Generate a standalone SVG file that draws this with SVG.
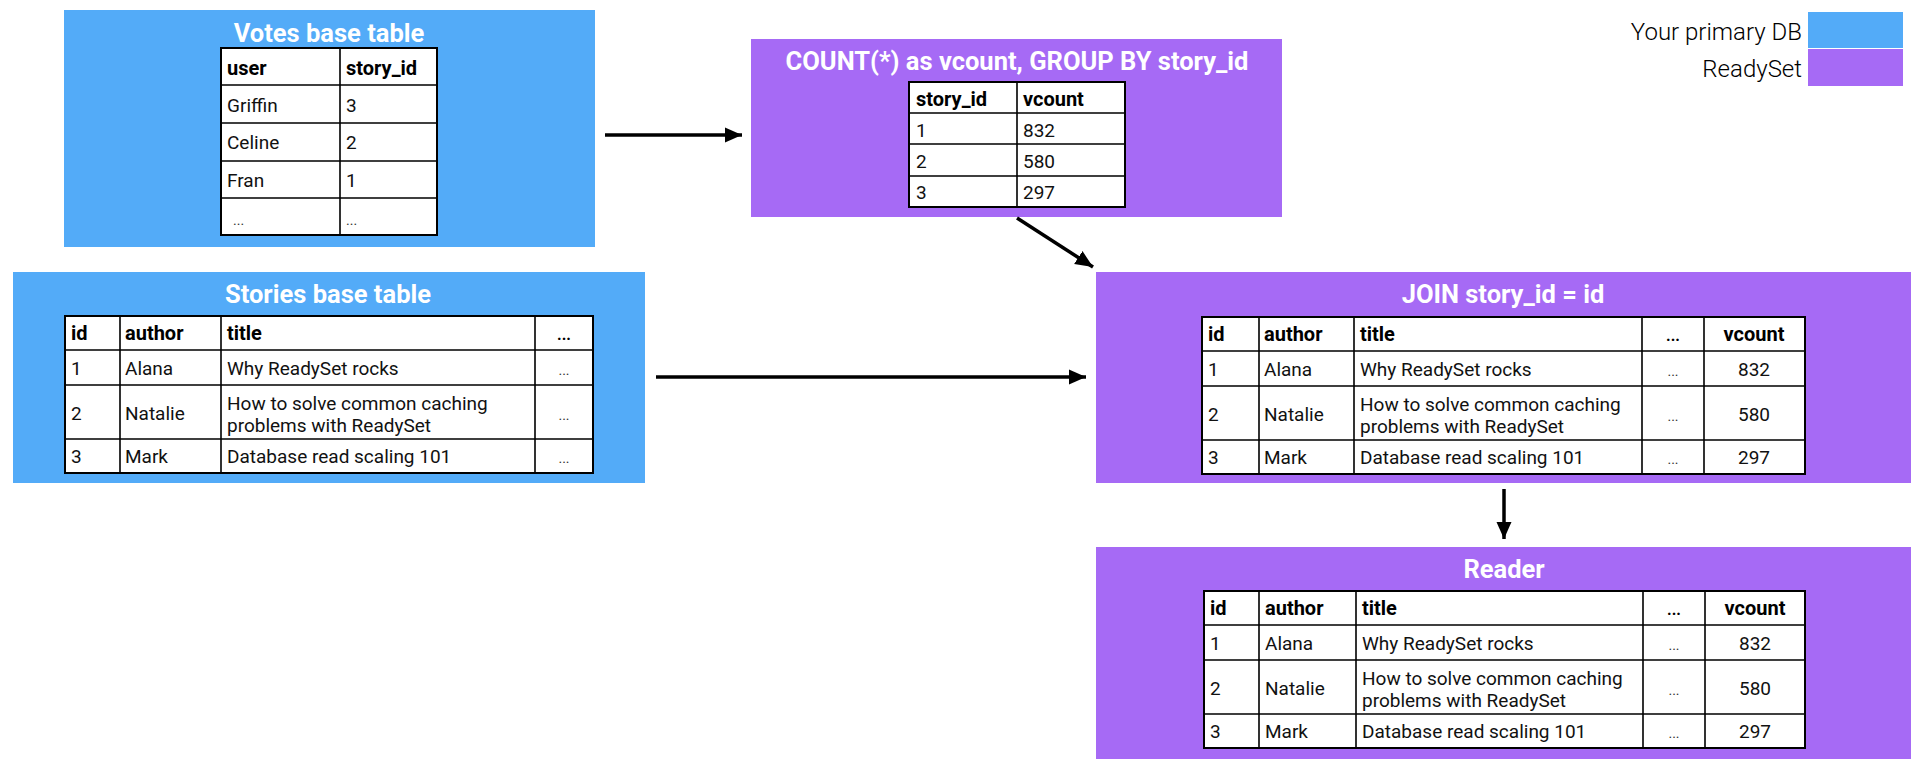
<svg xmlns="http://www.w3.org/2000/svg" width="1922" height="766" viewBox="0 0 1922 766">
<style>
.bg{fill:#ffffff}
.blue{fill:#53abf8}
.purple{fill:#a66af5}
.title{font-family:Roboto,"Liberation Sans",sans-serif;font-weight:700;font-size:25.5px;fill:#ffffff;text-anchor:middle}
.tbl{fill:#ffffff;stroke:#000000;stroke-width:2}
.grid{stroke:#000000;stroke-width:1.6;fill:none}
.h{font-family:Roboto,"Liberation Sans",sans-serif;font-weight:700;font-size:20px;fill:#000000}
.c{font-family:Roboto,"Liberation Sans",sans-serif;font-weight:400;font-size:19px;fill:#111111}
.m{text-anchor:middle}
.dots{font-family:Roboto,"Liberation Sans",sans-serif;font-size:14px;fill:#333333;text-anchor:middle}
.hdots{font-family:Roboto,"Liberation Sans",sans-serif;font-weight:700;font-size:16px;fill:#000000;text-anchor:middle}
.leg{font-family:Roboto,"Liberation Sans",sans-serif;font-weight:300;font-size:24px;fill:#000000;text-anchor:end}
.arrow{stroke:#000000;stroke-width:3.5;fill:none;marker-end:url(#ah)}
</style>
<defs>
<marker id="ah" markerWidth="6" markerHeight="6" refX="5" refY="3" orient="auto" markerUnits="strokeWidth">
<path d="M0,0.8 L5,3 L0,5.2 z" fill="#000000"/>
</marker>
</defs>
<rect class="bg" x="0" y="0" width="1922" height="766"/>

<g id="legend">
<text class="leg" x="1802" y="40">Your primary DB</text>
<rect class="blue" x="1808" y="12" width="95" height="36"/>
<text class="leg" x="1802" y="77">ReadySet</text>
<rect class="purple" x="1808" y="49" width="95" height="37"/>
</g>

<g id="votes">
<rect class="blue" x="64" y="10" width="531" height="237"/>
<text class="title" x="329" y="42">Votes base table</text>
<rect class="tbl" x="221" y="48" width="216" height="187"/>
<path class="grid" d="M340,48V235 M221,85H437 M221,123H437 M221,161H437 M221,198H437"/>
<text class="h" x="227" y="75">user</text>
<text class="h" x="346" y="75">story_id</text>
<text class="c" x="227" y="112">Griffin</text>
<text class="c" x="346" y="112">3</text>
<text class="c" x="227" y="149">Celine</text>
<text class="c" x="346" y="149">2</text>
<text class="c" x="227" y="187">Fran</text>
<text class="c" x="346" y="187">1</text>
<text class="dots" x="233" y="225" style="text-anchor:start">...</text>
<text class="dots" x="346" y="225" style="text-anchor:start">...</text>
</g>

<g id="count">
<rect class="purple" x="751" y="39" width="531" height="178"/>
<text class="title" x="1017" y="70">COUNT(*) as vcount, GROUP BY story_id</text>
<rect class="tbl" x="909" y="82" width="216" height="125"/>
<path class="grid" d="M1017,82V207 M909,113H1125 M909,144H1125 M909,176H1125"/>
<text class="h" x="916" y="106">story_id</text>
<text class="h" x="1023" y="106">vcount</text>
<text class="c" x="916" y="137">1</text>
<text class="c" x="1023" y="137">832</text>
<text class="c" x="916" y="168">2</text>
<text class="c" x="1023" y="168">580</text>
<text class="c" x="916" y="199">3</text>
<text class="c" x="1023" y="199">297</text>
</g>

<g id="stories">
<rect class="blue" x="13" y="272" width="632" height="211"/>
<text class="title" x="328" y="303">Stories base table</text>
<rect class="tbl" x="65" y="316" width="528" height="157"/>
<path class="grid" d="M120,316V473 M221,316V473 M535,316V473 M65,350H593 M65,385H593 M65,439H593"/>
<text class="h" x="71" y="340">id</text>
<text class="h" x="125" y="340">author</text>
<text class="h" x="227" y="340">title</text>
<text class="hdots" x="564" y="340">...</text>
<text class="c" x="71" y="375">1</text>
<text class="c" x="125" y="375">Alana</text>
<text class="c" x="227" y="375">Why ReadySet rocks</text>
<text class="dots" x="564" y="375">...</text>
<text class="c" x="71" y="420">2</text>
<text class="c" x="125" y="420">Natalie</text>
<text class="c" x="227" y="410">How to solve common caching</text>
<text class="c" x="227" y="432">problems with ReadySet</text>
<text class="dots" x="564" y="420">...</text>
<text class="c" x="71" y="463">3</text>
<text class="c" x="125" y="463">Mark</text>
<text class="c" x="227" y="463">Database read scaling 101</text>
<text class="dots" x="564" y="463">...</text>
</g>

<g id="join">
<rect class="purple" x="1096" y="272" width="815" height="211"/>
<text class="title" x="1503" y="303">JOIN story_id = id</text>
<rect class="tbl" x="1202" y="317" width="603" height="157"/>
<path class="grid" d="M1259,317V474 M1354,317V474 M1642,317V474 M1704,317V474 M1202,351H1805 M1202,386H1805 M1202,440H1805"/>
<text class="h" x="1208" y="341">id</text>
<text class="h" x="1264" y="341">author</text>
<text class="h" x="1360" y="341">title</text>
<text class="hdots" x="1673" y="341">...</text>
<text class="h m" x="1754" y="341">vcount</text>
<text class="c" x="1208" y="376">1</text>
<text class="c" x="1264" y="376">Alana</text>
<text class="c" x="1360" y="376">Why ReadySet rocks</text>
<text class="dots" x="1673" y="376">...</text>
<text class="c m" x="1754" y="376">832</text>
<text class="c" x="1208" y="421">2</text>
<text class="c" x="1264" y="421">Natalie</text>
<text class="c" x="1360" y="411">How to solve common caching</text>
<text class="c" x="1360" y="433">problems with ReadySet</text>
<text class="dots" x="1673" y="421">...</text>
<text class="c m" x="1754" y="421">580</text>
<text class="c" x="1208" y="464">3</text>
<text class="c" x="1264" y="464">Mark</text>
<text class="c" x="1360" y="464">Database read scaling 101</text>
<text class="dots" x="1673" y="464">...</text>
<text class="c m" x="1754" y="464">297</text>
</g>

<g id="reader">
<rect class="purple" x="1096" y="547" width="815" height="212"/>
<text class="title" x="1504" y="578">Reader</text>
<rect class="tbl" x="1204" y="591" width="601" height="157"/>
<path class="grid" d="M1259,591V748 M1356,591V748 M1643,591V748 M1705,591V748 M1204,625H1805 M1204,660H1805 M1204,714H1805"/>
<text class="h" x="1210" y="615">id</text>
<text class="h" x="1265" y="615">author</text>
<text class="h" x="1362" y="615">title</text>
<text class="hdots" x="1674" y="615">...</text>
<text class="h m" x="1755" y="615">vcount</text>
<text class="c" x="1210" y="650">1</text>
<text class="c" x="1265" y="650">Alana</text>
<text class="c" x="1362" y="650">Why ReadySet rocks</text>
<text class="dots" x="1674" y="650">...</text>
<text class="c m" x="1755" y="650">832</text>
<text class="c" x="1210" y="695">2</text>
<text class="c" x="1265" y="695">Natalie</text>
<text class="c" x="1362" y="685">How to solve common caching</text>
<text class="c" x="1362" y="707">problems with ReadySet</text>
<text class="dots" x="1674" y="695">...</text>
<text class="c m" x="1755" y="695">580</text>
<text class="c" x="1210" y="738">3</text>
<text class="c" x="1265" y="738">Mark</text>
<text class="c" x="1362" y="738">Database read scaling 101</text>
<text class="dots" x="1674" y="738">...</text>
<text class="c m" x="1755" y="738">297</text>
</g>

<g id="connectors">
<line class="arrow" x1="605" y1="135" x2="742" y2="135"/>
<line class="arrow" x1="1017" y1="218" x2="1093" y2="267"/>
<line class="arrow" x1="656" y1="377" x2="1086" y2="377"/>
<line class="arrow" x1="1504" y1="489" x2="1504" y2="539"/>
</g>
</svg>
